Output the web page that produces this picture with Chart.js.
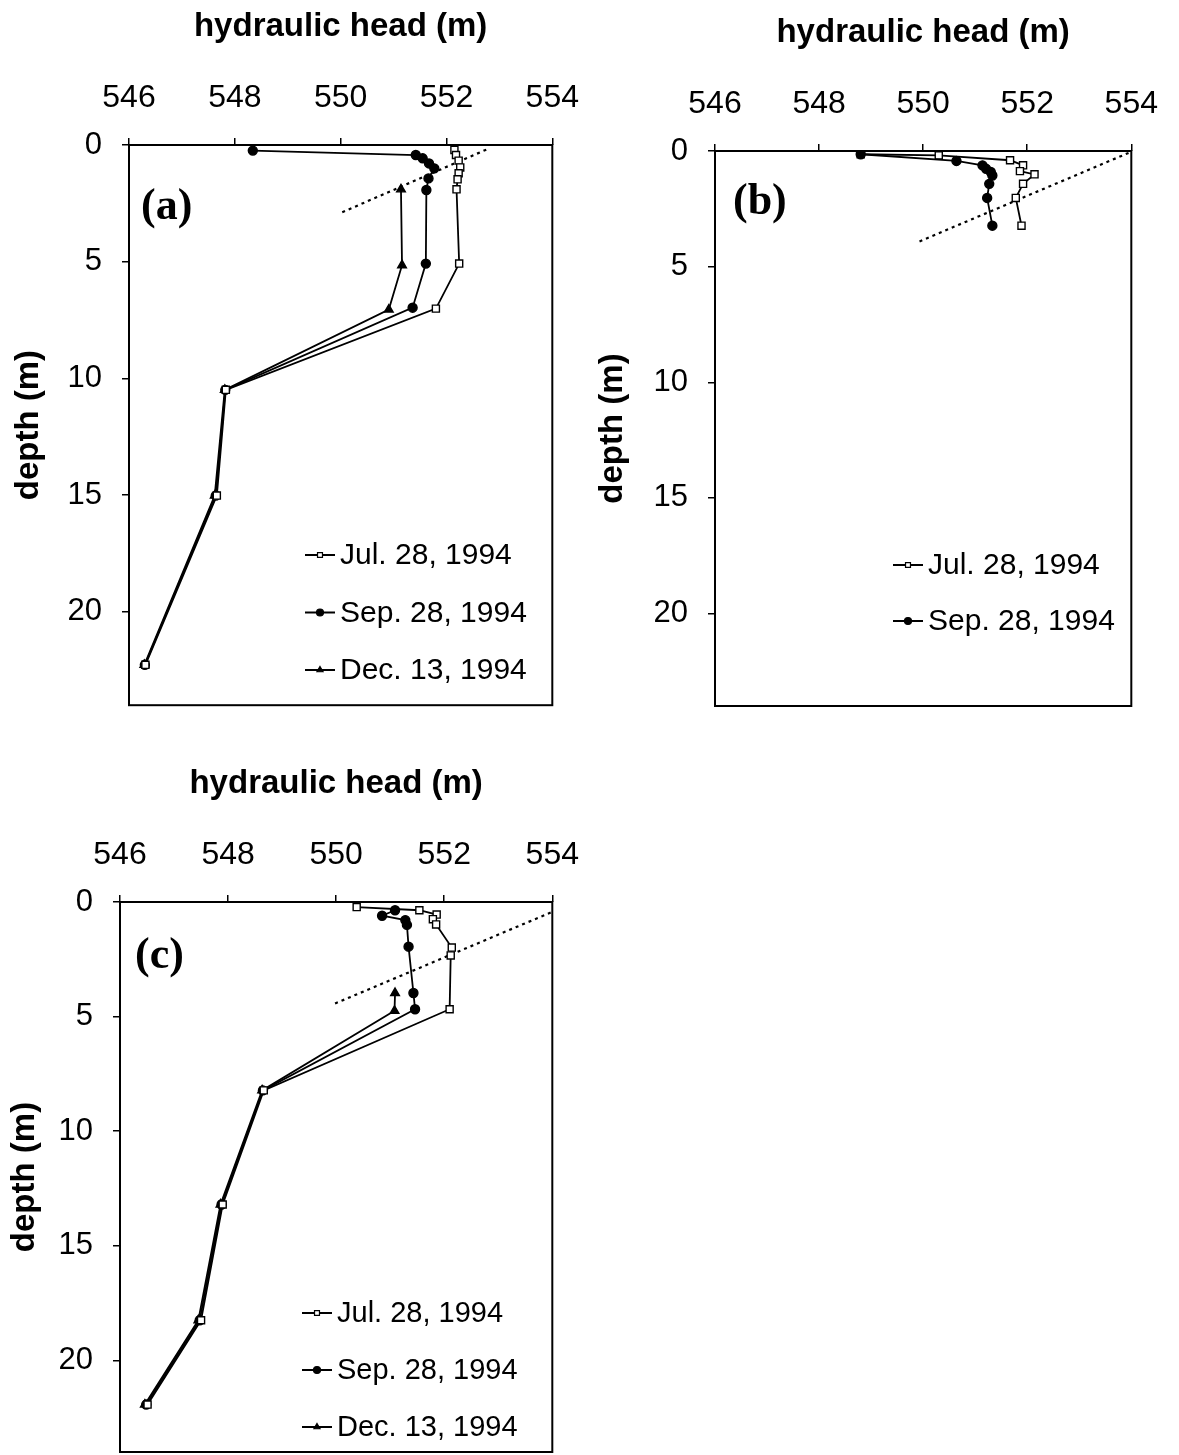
<!DOCTYPE html>
<html>
<head>
<meta charset="utf-8">
<script src="https://cdn.jsdelivr.net/npm/chart.js@4.4.1/dist/chart.umd.min.js"></script>
<style>
  html, body { margin: 0; padding: 0; background: #fff; }
  body { width: 1179px; height: 1455px; position: relative; overflow: hidden; }
  canvas { position: absolute; }
</style>
</head>
<body>
<canvas id="panelA" width="600" height="760" style="left:0;top:0"></canvas>
<canvas id="panelB" width="595" height="760" style="left:584px;top:6px"></canvas>
<canvas id="panelC" width="600" height="760" style="left:0;top:757px"></canvas>
<script>
// axes
const HEAD_TICKS  = [546, 548, 550, 552, 554];
const DEPTH_TICKS = [0, 5, 10, 15, 20];
const SERIES = ['Jul. 28, 1994', 'Sep. 28, 1994', 'Dec. 13, 1994'];

// (a) piezometer nest
const aJulHead  = [552.15, 552.18, 552.23, 552.26, 552.23, 552.21, 552.19, 552.24, 551.80, 547.83, 547.66, 546.31];
const aJulDepth = [0.21, 0.43, 0.67, 0.96, 1.21, 1.47, 1.90, 5.08, 7.01, 10.49, 15.02, 22.27];
const aSepHead  = [548.34, 551.42, 551.55, 551.67, 551.77, 551.66, 551.62, 551.61, 551.36, 547.82, 547.64, 546.30];
const aSepDepth = [0.24, 0.43, 0.57, 0.79, 1.00, 1.43, 1.93, 5.08, 6.97, 10.49, 15.02, 22.27];
const aDecHead  = [551.14, 551.16, 550.91, 547.81, 547.62, 546.29];
const aDecDepth = [1.90, 5.15, 7.05, 10.49, 15.02, 22.27];
const aTrendHead  = [550.03, 552.77];
const aTrendDepth = [2.88, 0.18];

// (b) piezometer nest
const bJulHead  = [548.80, 550.30, 551.67, 551.92, 551.86, 552.14, 551.92, 551.78, 551.89];
const bJulDepth = [0.14, 0.19, 0.40, 0.62, 0.87, 1.01, 1.42, 2.03, 3.23];
const bSepHead  = [548.80, 550.64, 551.14, 551.21, 551.30, 551.33, 551.27, 551.23, 551.33];
const bSepDepth = [0.14, 0.43, 0.62, 0.77, 0.91, 1.06, 1.42, 2.03, 3.23];
const bTrendHead  = [549.93, 553.95];
const bTrendDepth = [3.91, 0.08];

// (c) piezometer nest
const cJulHead  = [550.38, 551.54, 551.86, 551.79, 551.85, 552.14, 552.12, 552.10, 548.66, 547.90, 547.50, 546.51];
const cJulDepth = [0.22, 0.36, 0.55, 0.75, 0.98, 1.99, 2.33, 4.68, 8.22, 13.20, 18.25, 21.93];
const cSepHead  = [551.09, 550.85, 551.28, 551.31, 551.34, 551.43, 551.46, 548.645, 547.88, 547.475, 546.485];
const cSepDepth = [0.36, 0.60, 0.79, 1.00, 1.95, 3.97, 4.68, 8.22, 13.20, 18.25, 21.93];
const cDecHead  = [551.09, 551.08, 548.63, 547.86, 547.45, 546.46];
const cDecDepth = [3.97, 4.75, 8.22, 13.20, 18.25, 21.93];
const cTrendHead  = [549.98, 553.97];
const cTrendDepth = [4.43, 0.46];

const SANS  = '"Liberation Sans", Arial, sans-serif';
const SERIF = '"Liberation Serif", "Times New Roman", serif';

function pts(heads, depths) {
  return heads.map((h, i) => ({ x: h, y: depths[i] }));
}

function series(label, heads, depths, style, order = 0) {
  const s = {
    jul: { pointStyle: 'rect',     pointRadius: 5,   pointBackgroundColor: '#fff' },
    sep: { pointStyle: 'circle',   pointRadius: 4.5, pointBackgroundColor: '#000' },
    dec: { pointStyle: 'triangle', pointRadius: 5,   pointBackgroundColor: '#000' },
  }[style];
  return Object.assign({
    label,
    order,
    data: pts(heads, depths),
    showLine: true,
    borderColor: '#000',
    borderWidth: 1.8,
    pointBorderColor: '#000',
    pointBorderWidth: 1.4,
  }, s);
}

function trend(heads, depths) {
  return {
    label: '',
    order: 5,
    data: pts(heads, depths),
    showLine: true,
    borderColor: '#000',
    borderWidth: 2.2,
    borderDash: [3, 4],
    pointRadius: 0,
  };
}

// frame, panel tag and in-plot legend
const panelDeco = {
  id: 'panelDeco',
  afterDatasetsDraw(chart, args, o) {
    const { ctx, chartArea: a } = chart;
    ctx.save();
    ctx.setLineDash([]);
    ctx.strokeStyle = '#000';
    ctx.lineWidth = 2;
    ctx.strokeRect(a.left, a.top, a.right - a.left, a.bottom - a.top);

    ctx.fillStyle = '#000';
    ctx.textAlign = 'left';
    ctx.textBaseline = 'middle';
    ctx.font = 'bold 44px ' + SERIF;
    ctx.fillText(o.tag, a.left + o.tagX, a.top + o.tagY);

    ctx.font = o.legendSize + 'px ' + SANS;
    let row = 0;
    chart.data.datasets.forEach(ds => {
      if (!ds.label) return;
      const x = a.left + o.legendX;
      const y = a.top + o.legendY + row * o.legendGap;
      row++;
      ctx.strokeStyle = '#000';
      ctx.lineWidth = 2;
      ctx.beginPath();
      ctx.moveTo(x, y);
      ctx.lineTo(x + 30, y);
      ctx.stroke();
      ctx.fillStyle = ds.pointBackgroundColor;
      ctx.lineWidth = 1.2;
      Chart.helpers.drawPoint(ctx, { pointStyle: ds.pointStyle, radius: 3.5, rotation: 0, borderWidth: 1.2 }, x + 15, y);
      ctx.fillStyle = '#000';
      ctx.fillText(ds.label, x + 35, y + 1);
    });
    ctx.restore();
  }
};

function makePanel(id, datasets, o) {
  const tickGrid = { drawOnChartArea: false, drawTicks: true, tickLength: 7, color: '#000', lineWidth: 1.5 };
  const chart = new Chart(document.getElementById(id), {
    type: 'scatter',
    data: { datasets },
    options: {
      responsive: false,
      animation: false,
      events: [],
      layout: { padding: { left: 0, top: 0, right: 20, bottom: 20 } },
      plugins: { legend: { display: false }, tooltip: { enabled: false }, panelDeco: o },
      scales: {
        x: {
          type: 'linear', position: 'top', min: 546, max: 554,
          afterBuildTicks: s => { s.ticks = HEAD_TICKS.map(v => ({ value: v })); },
          afterFit: s => { s.height = 145; },
          grid: tickGrid,
          border: { display: false },
          ticks: { color: '#000', font: { family: SANS, size: 32 }, padding: 21, maxRotation: 0 },
          title: { display: true, text: 'hydraulic head (m)', color: '#000',
                   font: { family: SANS, size: 33, weight: 'bold' }, padding: { top: 7, bottom: 0 } },
        },
        y: {
          type: 'linear', reverse: true, min: 0, max: 24,
          afterBuildTicks: s => { s.ticks = DEPTH_TICKS.map(v => ({ value: v })); },
          afterFit: s => { s.width = o.yWidth; },
          grid: tickGrid,
          border: { display: false },
          ticks: { color: '#000', font: { family: SANS, size: 31 }, padding: 20 },
          title: { display: true, text: 'depth (m)', color: '#000',
                   font: { family: SANS, size: 33, weight: 'bold' }, padding: { top: o.yTitlePad, bottom: 0 } },
        },
      },
    },
    plugins: [panelDeco],
  });
  // pin the plot frame to its right and bottom edge
  for (let k = 0; k < 2; k++) {
    const a = chart.chartArea;
    const p = chart.config.options.layout.padding;
    chart.config.options.layout.padding = {
      left: 0, top: 0,
      right: Math.max(0, p.right + a.right - o.right),
      bottom: Math.max(0, p.bottom + a.bottom - o.bottom),
    };
    chart.update();
  }
  return chart;
}

makePanel('panelA', [
  series(SERIES[0], aJulHead, aJulDepth, 'jul'),
  series(SERIES[1], aSepHead, aSepDepth, 'sep'),
  series(SERIES[2], aDecHead, aDecDepth, 'dec'),
  trend(aTrendHead, aTrendDepth),
], { right: 553, bottom: 704, yWidth: 129, yTitlePad: 9,
     tag: '(a)', tagX: 12, tagY: 63, legendX: 176, legendY: 410, legendGap: 57.5, legendSize: 30 });

makePanel('panelB', [
  series(SERIES[0], bJulHead, bJulDepth, 'jul', 1),
  series(SERIES[1], bSepHead, bSepDepth, 'sep', 0),
  trend(bTrendHead, bTrendDepth),
], { right: 559, bottom: 700, yWidth: 131, yTitlePad: 9,
     tag: '(b)', tagX: 18, tagY: 52, legendX: 178, legendY: 414, legendGap: 56, legendSize: 30 });

makePanel('panelC', [
  series(SERIES[0], cJulHead, cJulDepth, 'jul'),
  series(SERIES[1], cSepHead, cSepDepth, 'sep'),
  series(SERIES[2], cDecHead, cDecDepth, 'dec'),
  trend(cTrendHead, cTrendDepth),
], { right: 547, bottom: 695, yWidth: 120, yTitlePad: 5,
     tag: '(c)', tagX: 15, tagY: 55, legendX: 182, legendY: 411, legendGap: 57, legendSize: 29 });
</script>
</body>
</html>
